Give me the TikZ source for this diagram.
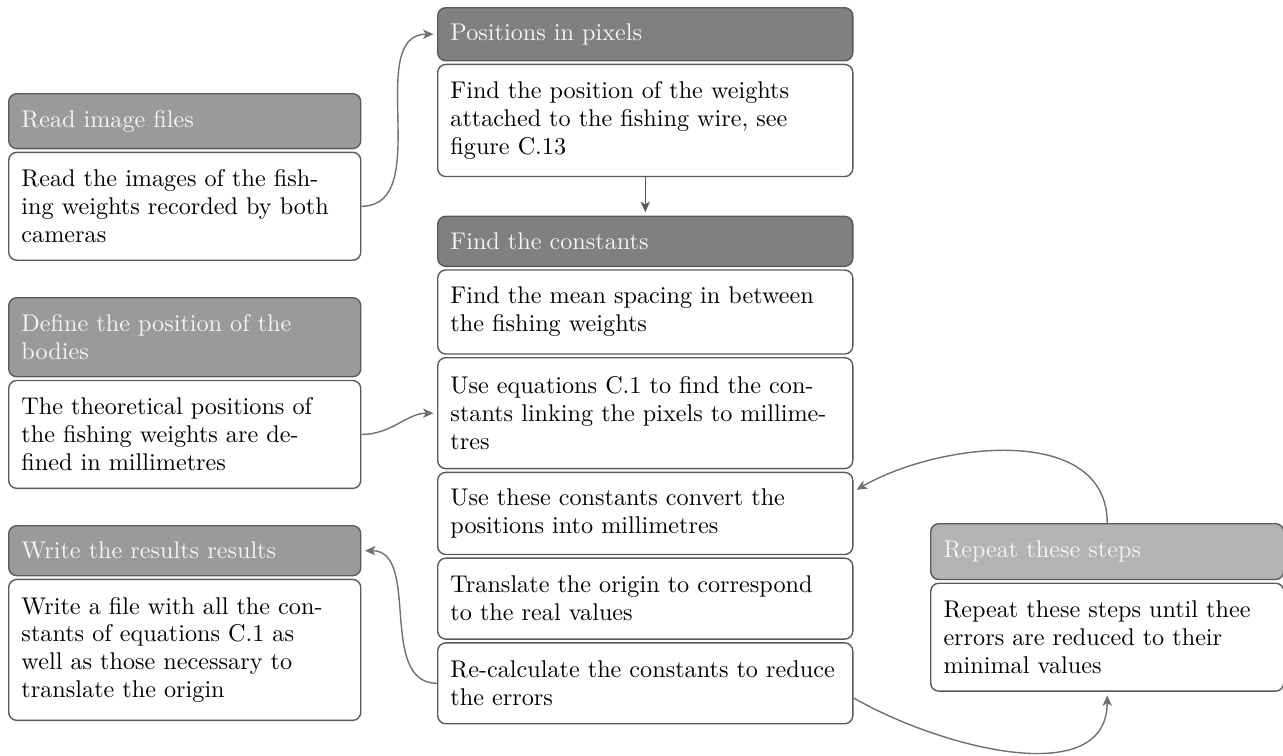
\documentclass[tikz,border=0pt]{standalone}
\usepackage{xcolor}
\usetikzlibrary{positioning, arrows.meta}
\definecolor{headdark}{HTML}{808080}
\definecolor{headmid}{HTML}{9A9A9A}
\definecolor{headlight}{HTML}{B3B3B3}
\definecolor{edge}{HTML}{5A5A5A}
\definecolor{link}{HTML}{707070}
\definecolor{headtext}{HTML}{F4F4F4}

\begin{document}
\begin{tikzpicture}[
    x=0.43pt, y=-0.43pt,
    node distance=1pt,
    box/.style={rectangle, draw=edge, line width=0.6pt, rounded corners=3.5pt,
                inner xsep=5.5pt, inner ysep=0pt, align=left, fill=white,
                font=\fontsize{10.4}{12}\selectfont},
    side/.style={box, text width=140.4pt},
    mid/.style={box, text width=167.5pt},
    head/.style={fill=#1, text=headtext},
    tall/.style={minimum height=#1},
    flow/.style={-{Stealth[length=4.5pt, width=4pt, inset=1.2pt]}, line width=0.6pt, link, shorten >=1.5pt}
  ]
    \useasboundingbox (0,0) rectangle (1283,756);

    \node[side, head=headmid, tall=23.6pt, anchor=north west] (rhead) at (8,93) {Read image files};
    \node[side, tall=46.4pt, below=of rhead] (rbody) {Read the images of the fish-\\ing weights recorded by both\\cameras};

    \node[side, head=headmid, tall=34pt, anchor=north west] (dhead) at (8,297) {Define the position of the\\bodies};
    \node[side, tall=46.4pt, below=of dhead] (dbody) {The theoretical positions of\\the fishing weights are de-\\fined in millimetres};

    \node[side, head=headmid, tall=21.5pt, anchor=north west] (whead) at (8,525) {Write the results results};
    \node[side, tall=60.6pt, below=of whead] (wbody) {Write a file with all the con-\\stants of equations C.1 as\\well as those necessary to\\translate the origin};

    \node[mid, head=headdark, tall=22.8pt, anchor=north west] (phead) at (437,7) {Positions in pixels};
    \node[mid, tall=48.2pt, below=of phead] (pbody) {Find the position of the weights\\attached to the fishing wire, see\\figure C.13};

    \node[mid, head=headdark, tall=21.5pt, below=16.5pt of pbody] (fhead) {Find the constants};
    \node[mid, tall=36.1pt, below=of fhead] (fmean) {Find the mean spacing in between\\the fishing weights};
    \node[mid, tall=47.7pt, below=of fmean] (fequ) {Use equations C.1 to find the con-\\stants linking the pixels to millime-\\tres};
    \node[mid, tall=35.3pt, below=of fequ] (fconv) {Use these constants convert the\\positions into millimetres};
    \node[mid, tall=34.8pt, below=of fconv] (forig) {Translate the origin to correspond\\to the real values};
    \node[mid, tall=34.8pt, below=of forig] (fcalc) {\mbox{Re-calculate the constants to reduce}\\the errors};

    \node[side, head=headlight, text width=140.8pt, tall=24pt, anchor=north west] (rephead) at (930,523) {Repeat these steps};
    \node[side, text width=140.8pt, tall=46.4pt, below=of rephead] (repbody) {Repeat these steps until thee\\errors are reduced to their\\minimal values};

    \draw[flow] (rbody.east) to[out=0, in=180] (phead.west);
    \draw[flow, edge] (pbody.south) -- (fhead.north);
    \draw[flow] (dbody.east) to[out=0, in=180] (fequ.west);
    \draw[flow] (fcalc.west) to[out=180, in=0] (whead.east);
    \draw[flow] (rephead.north) to[out=90, in=30] (fconv.6);
    \draw[flow] (fcalc.-4) to[out=-30, in=-90] (repbody.south);
  \end{tikzpicture}
\end{document}
